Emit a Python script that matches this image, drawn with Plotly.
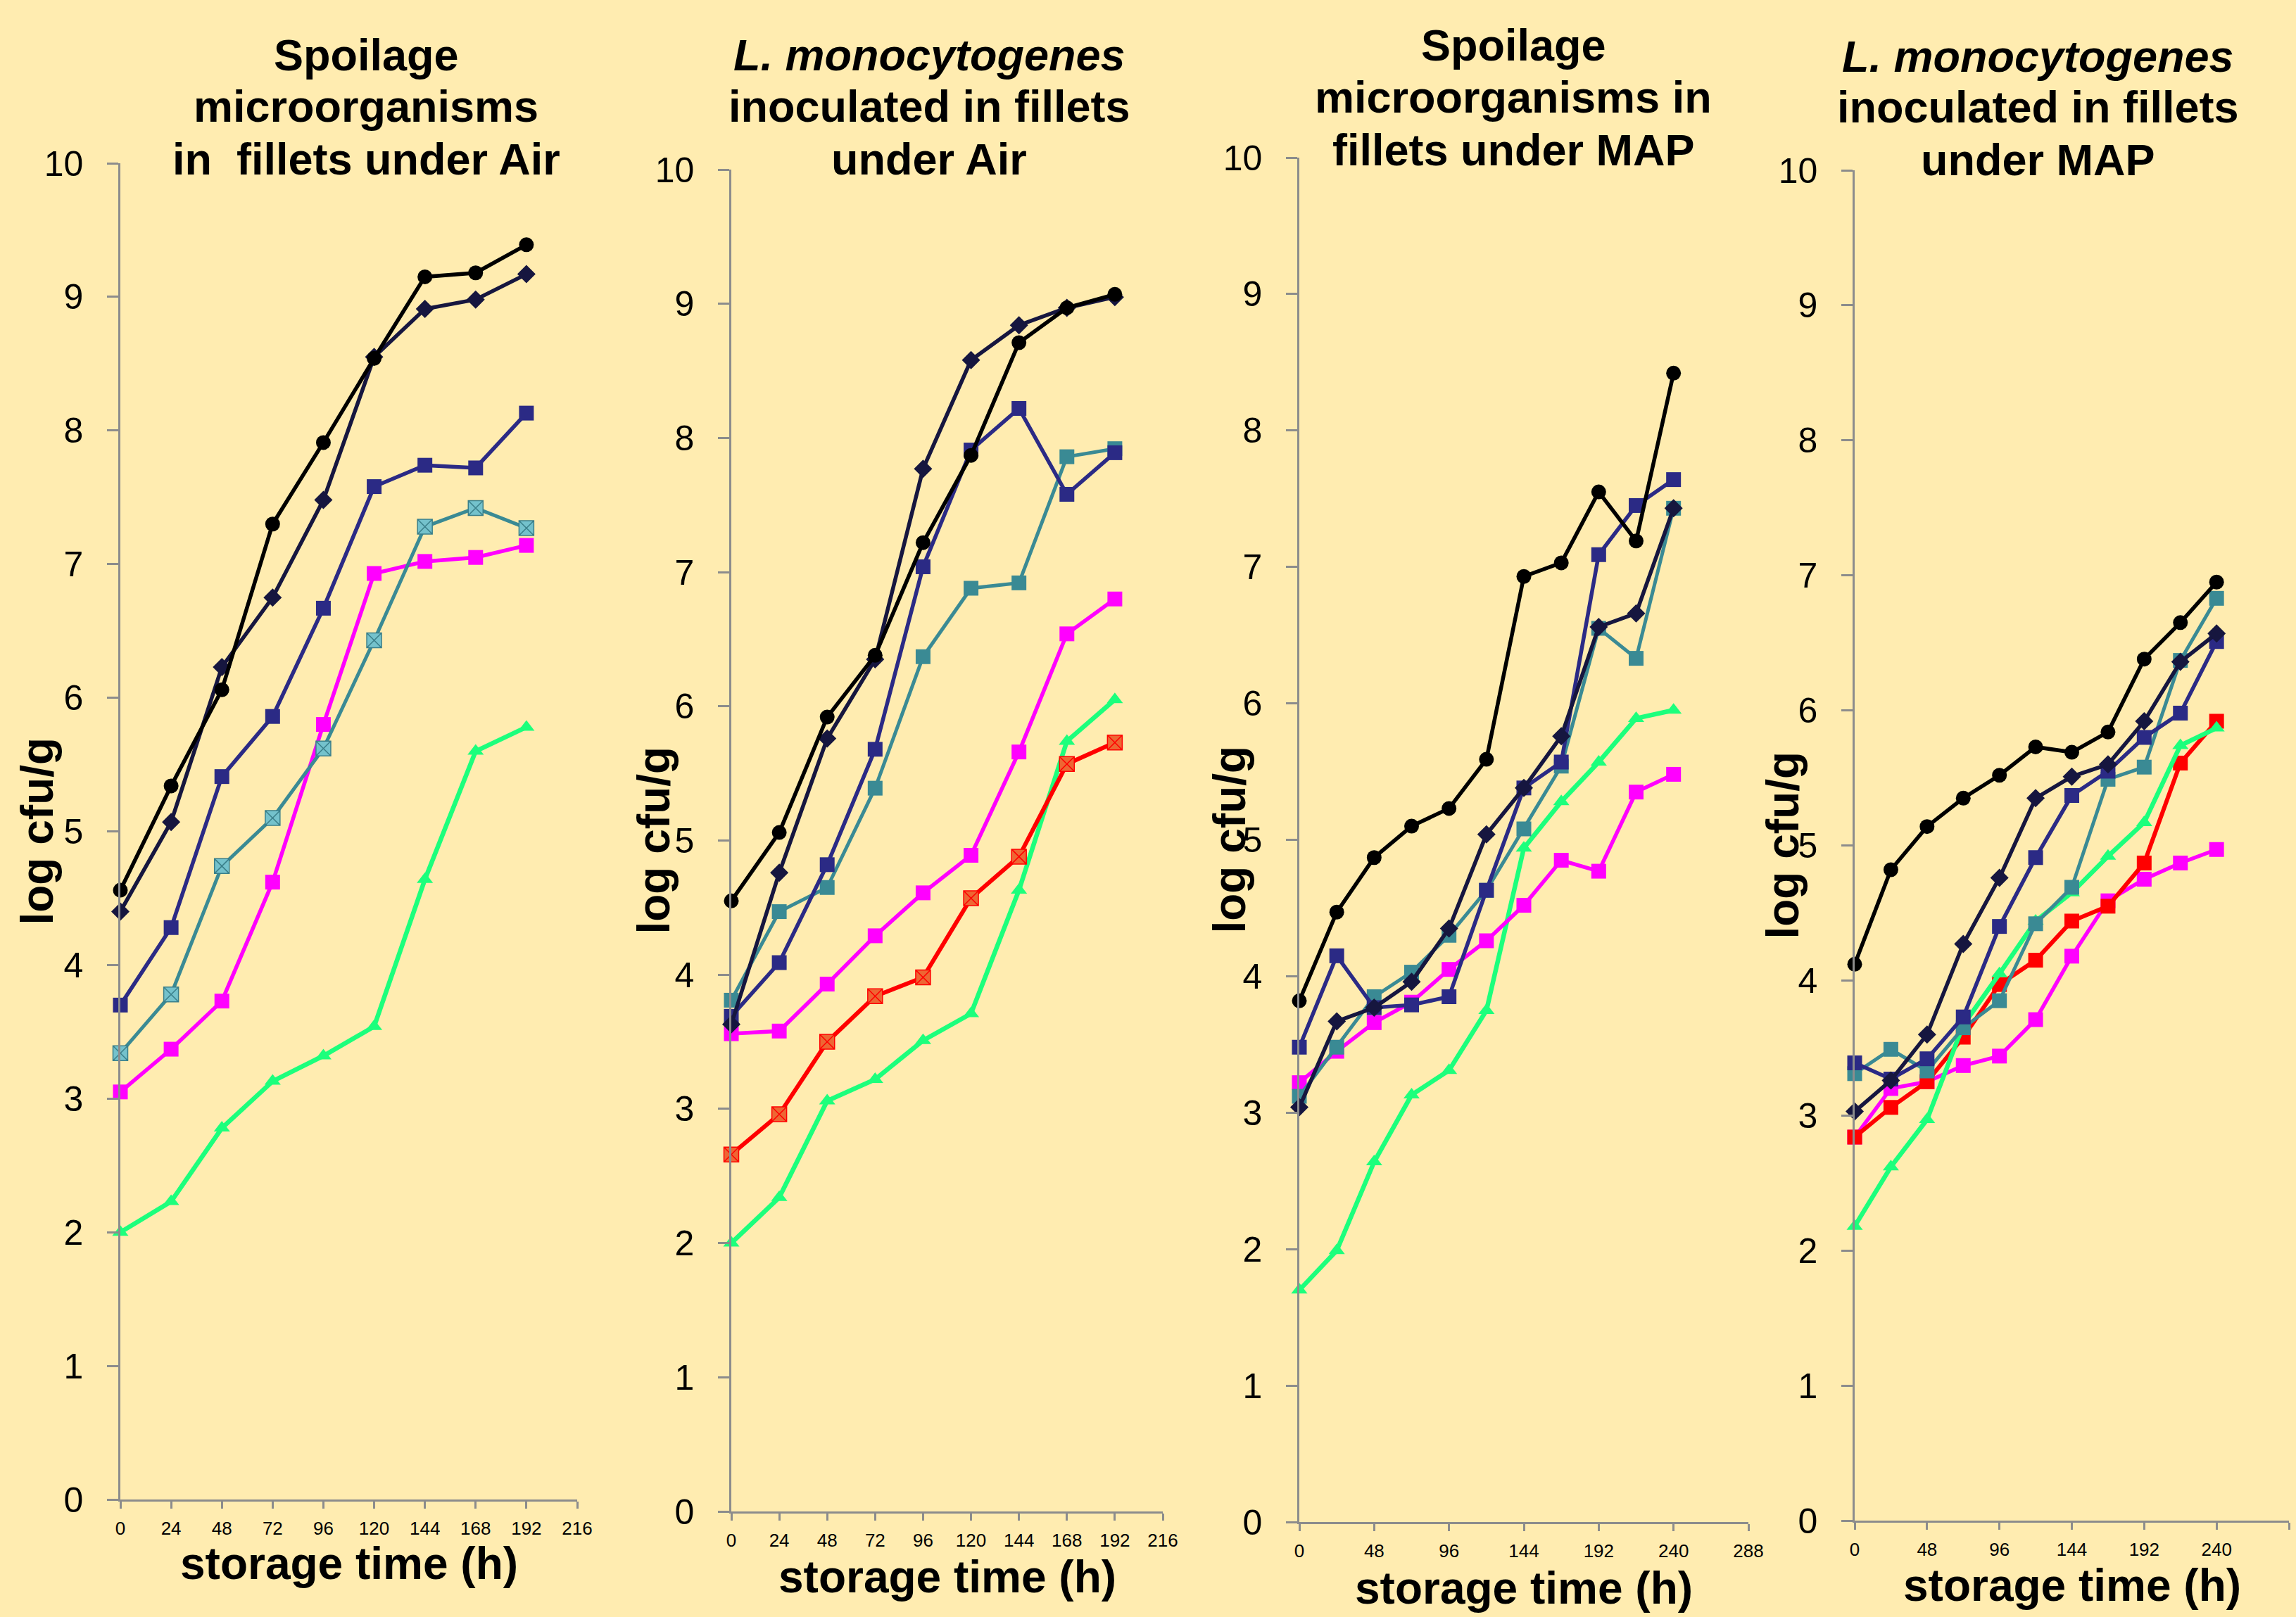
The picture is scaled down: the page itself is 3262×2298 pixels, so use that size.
import plotly.graph_objects as go

W, H = 3262, 2298

# ---------------- data ----------------
hours_air = [0, 24, 48, 72, 96, 120, 144, 168, 192]
hours_map = [0, 24, 48, 72, 96, 120, 144, 168, 192, 216, 240]
ticks_air = [0, 24, 48, 72, 96, 120, 144, 168, 192, 216]
ticks_map = [0, 48, 96, 144, 192, 240, 288]

# Panel 1: spoilage microorganisms, fillets under Air
p1_black = [4.56, 5.34, 6.06, 7.30, 7.91, 8.54, 9.15, 9.18, 9.39]
p1_diamond = [4.40, 5.07, 6.23, 6.75, 7.48, 8.55, 8.91, 8.98, 9.17]
p1_navy = [3.70, 4.28, 5.41, 5.86, 6.67, 7.58, 7.74, 7.72, 8.13]
p1_teal = [3.34, 3.78, 4.74, 5.10, 5.62, 6.43, 7.28, 7.42, 7.27]
p1_magenta = [3.05, 3.37, 3.73, 4.62, 5.80, 6.93, 7.02, 7.05, 7.14]
p1_green = [2.00, 2.23, 2.78, 3.13, 3.32, 3.54, 4.64, 5.60, 5.78]

# Panel 2: L. monocytogenes inoculated, fillets under Air
p2_black = [4.55, 5.06, 5.92, 6.38, 7.22, 7.87, 8.71, 8.97, 9.07]
p2_diamond = [3.63, 4.76, 5.76, 6.35, 7.77, 8.58, 8.84, 8.97, 9.05]
p2_navy = [3.69, 4.09, 4.82, 5.68, 7.04, 7.91, 8.22, 7.58, 7.89]
p2_teal = [3.81, 4.47, 4.65, 5.39, 6.37, 6.88, 6.92, 7.86, 7.92]
p2_magenta = [3.56, 3.58, 3.93, 4.29, 4.61, 4.89, 5.66, 6.54, 6.80]
p2_red = [2.66, 2.96, 3.50, 3.84, 3.98, 4.57, 4.88, 5.57, 5.73]
p2_green = [2.00, 2.34, 3.06, 3.22, 3.51, 3.71, 4.63, 5.74, 6.05]

# Panel 3: spoilage microorganisms, fillets under MAP
p3_black = [3.82, 4.47, 4.87, 5.10, 5.23, 5.59, 6.93, 7.03, 7.55, 7.19, 8.42]
p3_diamond = [3.04, 3.67, 3.77, 3.96, 4.35, 5.04, 5.38, 5.76, 6.56, 6.66, 7.43]
p3_navy = [3.48, 4.15, 3.77, 3.79, 3.85, 4.63, 5.38, 5.57, 7.09, 7.45, 7.64]
p3_teal = [3.12, 3.48, 3.85, 4.03, 4.30, 4.63, 5.08, 5.54, 6.55, 6.33, 7.43]
p3_magenta = [3.22, 3.45, 3.66, 3.81, 4.05, 4.26, 4.52, 4.85, 4.77, 5.35, 5.48]
p3_green = [1.70, 1.99, 2.64, 3.13, 3.31, 3.75, 4.94, 5.28, 5.57, 5.89, 5.95]

# Panel 4: L. monocytogenes inoculated, fillets under MAP
p4_black = [4.12, 4.82, 5.14, 5.35, 5.52, 5.73, 5.69, 5.84, 6.38, 6.65, 6.95]
p4_diamond = [3.03, 3.26, 3.60, 4.27, 4.76, 5.35, 5.51, 5.60, 5.92, 6.36, 6.57]
p4_navy = [3.39, 3.27, 3.42, 3.73, 4.40, 4.91, 5.37, 5.55, 5.80, 5.98, 6.51]
p4_teal = [3.31, 3.49, 3.33, 3.65, 3.85, 4.42, 4.69, 5.49, 5.58, 6.37, 6.83]
p4_red = [2.84, 3.06, 3.25, 3.58, 3.97, 4.15, 4.44, 4.55, 4.87, 5.61, 5.92]
p4_magenta = [2.84, 3.20, 3.25, 3.37, 3.44, 3.71, 4.18, 4.59, 4.75, 4.87, 4.97]
p4_green = [2.18, 2.62, 2.97, 3.67, 4.05, 4.44, 4.65, 4.92, 5.17, 5.74, 5.87]

titles = [
    ["Spoilage", "microorganisms", "in  fillets under Air"],
    ["<i>L. monocytogenes</i>", "inoculated in fillets", "under Air"],
    ["Spoilage", "microorganisms in", "fillets under MAP"],
    ["<i>L. monocytogenes</i>", "inoculated in fillets", "under MAP"],
]
x_title = "storage time (h)"
y_title = "log cfu/g"

# ---------------- styles ----------------
BG = "#FFECB0"
AX = "#8C8C8C"
FONT = "Liberation Sans"

STY = {
    "black": dict(line=dict(color="#000000", width=5.5),
                  marker=dict(symbol="circle", size=21, color="#000000")),
    "diamond": dict(line=dict(color="#16163F", width=5.5),
                    marker=dict(symbol="diamond", size=20, color="#16163F")),
    "navy": dict(line=dict(color="#2B2A85", width=5.5),
                 marker=dict(symbol="square", size=21, color="#2B2A85")),
    "teal": dict(line=dict(color="#3A8A94", width=5),
                 marker=dict(symbol="square", size=21, color="#3A8A94")),
    "teal_x": dict(line=dict(color="#3A8A94", width=5),
                   marker=dict(symbol="square-x", size=21, color="#74C2CC",
                               line=dict(color="#3A7F8A", width=1.5))),
    "magenta": dict(line=dict(color="#FF00FF", width=5.5),
                    marker=dict(symbol="square", size=21, color="#FF00FF")),
    "red_x": dict(line=dict(color="#FF0000", width=6),
                  marker=dict(symbol="square-x", size=21, color="#EE6633",
                              line=dict(color="#FF0000", width=1.5))),
    "red": dict(line=dict(color="#FF0000", width=6),
                marker=dict(symbol="square", size=21, color="#FF0000")),
    "green": dict(line=dict(color="#1CFF7C", width=6.5),
                  marker=dict(symbol="triangle-up", size=20, color="#1CFF7C")),
}

panels = [
    dict(x=hours_air, rng=[0, 216], ticks=ticks_air,
         xd=(171, 820), yd=(232, 2131),
         series=[("green", p1_green), ("magenta", p1_magenta), ("teal_x", p1_teal),
                 ("navy", p1_navy), ("diamond", p1_diamond), ("black", p1_black)],
         tcx=520, tbase=(100, 173, 248), ytx=52, xty=2222),
    dict(x=hours_air, rng=[0, 216], ticks=ticks_air,
         xd=(1039, 1652), yd=(241, 2148),
         series=[("green", p2_green), ("red_x", p2_red), ("magenta", p2_magenta),
                 ("teal", p2_teal), ("navy", p2_navy), ("diamond", p2_diamond),
                 ("black", p2_black)],
         tcx=1320, tbase=(100, 173, 248), ytx=928, xty=2241),
    dict(x=hours_map, rng=[0, 288], ticks=ticks_map,
         xd=(1846, 2484), yd=(224, 2163),
         series=[("green", p3_green), ("magenta", p3_magenta), ("teal", p3_teal),
                 ("navy", p3_navy), ("diamond", p3_diamond), ("black", p3_black)],
         tcx=2150, tbase=(86, 160, 235), ytx=1746, xty=2257),
    dict(x=hours_map, rng=[0, 288], ticks=ticks_map,
         xd=(2635, 3252), yd=(242, 2161),
         series=[("magenta", p4_magenta), ("red", p4_red), ("green", p4_green),
                 ("teal", p4_teal), ("navy", p4_navy), ("diamond", p4_diamond),
                 ("black", p4_black)],
         tcx=2895, tbase=(102, 174, 249), ytx=2532, xty=2253),
]

fig = go.Figure()
layout = dict(
    width=W, height=H, paper_bgcolor=BG, plot_bgcolor=BG,
    margin=dict(l=0, r=0, t=0, b=0, pad=0, autoexpand=False), showlegend=False,
    font=dict(family=FONT, color="#000000"),
)
annotations = []

TITLE_SIZE = 63
AXT_SIZE = 64

for i, p in enumerate(panels, start=1):
    sfx = "" if i == 1 else str(i)
    xa, ya = "x" + sfx, "y" + sfx
    for key, vals in p["series"]:
        st = STY[key]
        fig.add_trace(go.Scatter(x=p["x"], y=vals, mode="lines+markers",
                                 line=st["line"], marker=st["marker"],
                                 xaxis=xa, yaxis=ya, cliponaxis=False,
                                 hoverinfo="x+y"))
    x0, x1 = p["xd"]
    ytop, ybot = p["yd"]
    layout["xaxis" + sfx] = dict(
        domain=[x0 / W, x1 / W], range=p["rng"], anchor=ya, automargin=False,
        tickmode="array", tickvals=p["ticks"],
        showline=True, linecolor=AX, linewidth=2.5,
        ticks="outside", ticklen=10, tickwidth=2.5, tickcolor=AX,
        ticklabelstandoff=6,
        tickfont=dict(size=26, family=FONT, color="#000000"),
        showgrid=False, zeroline=False)
    layout["yaxis" + sfx] = dict(
        domain=[1 - ybot / H, 1 - ytop / H], range=[0, 10], anchor=xa,
        automargin=False,
        tickmode="linear", tick0=0, dtick=1,
        showline=True, linecolor=AX, linewidth=2.5,
        ticks="outside", ticklen=16, tickwidth=2.5, tickcolor=AX,
        ticklabelstandoff=24,
        tickfont=dict(size=50, family=FONT, color="#000000"),
        showgrid=False, zeroline=False)

    # panel title lines
    for line, base in zip(titles[i - 1], p["tbase"]):
        annotations.append(dict(
            text="<b>" + line + "</b>", xref="paper", yref="paper",
            x=p["tcx"] / W, y=1 - (base - 0.3465 * TITLE_SIZE) / H,
            xanchor="center", yanchor="middle", showarrow=False,
            font=dict(size=TITLE_SIZE, family=FONT, color="#000000")))
    # x-axis title
    annotations.append(dict(
        text="<b>" + x_title + "</b>", xref="paper", yref="paper",
        x=(x0 + x1) / 2 / W, y=1 - p["xty"] / H,
        xanchor="center", yanchor="middle", showarrow=False,
        font=dict(size=AXT_SIZE, family=FONT, color="#000000")))
    # y-axis title
    annotations.append(dict(
        text="<b>" + y_title + "</b>", xref="paper", yref="paper",
        x=p["ytx"] / W, y=1 - (ytop + ybot) / 2 / H, textangle=-90,
        xanchor="center", yanchor="middle", showarrow=False,
        font=dict(size=AXT_SIZE, family=FONT, color="#000000")))

layout["annotations"] = annotations
fig.update_layout(**layout)
fig.write_html("out.html", config={"displayModeBar": False})

# remove the default page margin so the figure fills the window exactly
with open("out.html", "r", encoding="utf-8") as f:
    html = f.read()
html = html.replace("<head>", "<head><style>html,body{margin:0;padding:0;overflow:hidden;background:%s;}</style>" % BG, 1)
with open("out.html", "w", encoding="utf-8") as f:
    f.write(html)
